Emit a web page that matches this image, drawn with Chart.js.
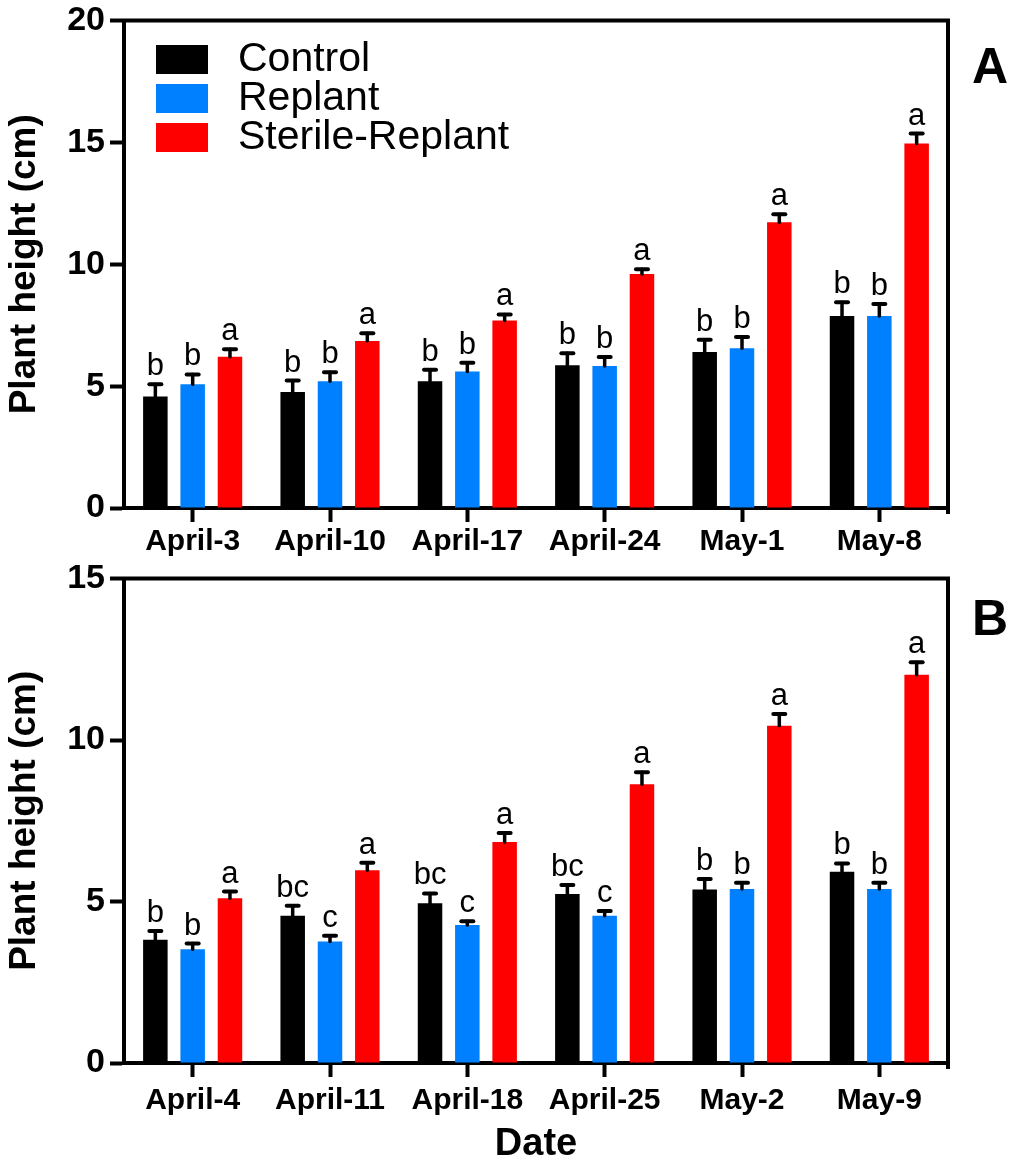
<!DOCTYPE html>
<html>
<head>
<meta charset="utf-8">
<script src="https://cdn.jsdelivr.net/npm/chart.js@4.4.0/dist/chart.umd.min.js"></script>
<style>
  html, body { margin: 0; padding: 0; background: #fff; }
  canvas { display: block; }
</style>
</head>
<body>
<canvas id="chartA" width="1013" height="560"></canvas>
<canvas id="chartB" width="1013" height="604"></canvas>
<script>
// ===================== DATOS PANEL A =====================
const datesA = ["April-3", "April-10", "April-17", "April-24", "May-1", "May-8"];
const controlA = [4.57, 4.76, 5.2, 5.86, 6.4, 7.88];
const controlErrA = [0.51, 0.47, 0.47, 0.49, 0.5, 0.56];
const replantA = [5.08, 5.2, 5.6, 5.83, 6.55, 7.88];
const replantErrA = [0.4, 0.37, 0.36, 0.36, 0.47, 0.49];
const sterileA = [6.21, 6.85, 7.69, 9.6, 11.72, 14.95];
const sterileErrA = [0.3, 0.32, 0.25, 0.19, 0.33, 0.41];
const lettersControlA = ["b", "b", "b", "b", "b", "b"];
const lettersReplantA = ["b", "b", "b", "b", "b", "b"];
const lettersSterileA = ["a", "a", "a", "a", "a", "a"];
const ticksA = [0, 5, 10, 15, 20];

// ===================== DATOS PANEL B =====================
const datesB = ["April-4", "April-11", "April-18", "April-25", "May-2", "May-9"];
const controlB = [3.82, 4.56, 4.95, 5.23, 5.37, 5.92];
const controlErrB = [0.27, 0.31, 0.3, 0.28, 0.33, 0.26];
const replantB = [3.52, 3.76, 4.27, 4.56, 5.39, 5.39];
const replantErrB = [0.18, 0.18, 0.12, 0.15, 0.19, 0.19];
const sterileB = [5.1, 5.97, 6.84, 8.63, 10.44, 12.02];
const sterileErrB = [0.21, 0.23, 0.28, 0.37, 0.37, 0.39];
const lettersControlB = ["b", "bc", "bc", "bc", "b", "b"];
const lettersReplantB = ["b", "c", "c", "c", "b", "b"];
const lettersSterileB = ["a", "a", "a", "a", "a", "a"];
const ticksB = [0, 5, 10, 15];

const seriesNames = ["Control", "Replant", "Sterile-Replant"];
const seriesColors = ["#000000", "#0080FF", "#FF0000"];

const FONT = '"Liberation Sans", Arial, Helvetica, sans-serif';

// ===================== PLUGIN: barras de error, letras, marco =====================
const extrasPlugin = {
  id: "extras",
  afterDatasetsDraw(chart, args, opts) {
    const ctx = chart.ctx;
    const yScale = chart.scales.y;
    ctx.save();
    chart.data.datasets.forEach((ds, i) => {
      const meta = chart.getDatasetMeta(i);
      meta.data.forEach((bar, j) => {
        const capY = yScale.getPixelForValue(ds.data[j] + opts.errors[i][j]);
        ctx.strokeStyle = "#000";
        ctx.lineCap = "round";
        ctx.lineWidth = 3.5;
        ctx.beginPath();
        ctx.moveTo(bar.x, bar.y);
        ctx.lineTo(bar.x, capY);
        ctx.stroke();
        ctx.lineWidth = 4;
        ctx.beginPath();
        ctx.moveTo(bar.x - 6, capY);
        ctx.lineTo(bar.x + 6, capY);
        ctx.stroke();

        ctx.fillStyle = "#000";
        ctx.font = "31px " + FONT;
        ctx.textAlign = "center";
        ctx.textBaseline = "alphabetic";
        ctx.fillText(opts.letters[i][j], bar.x, capY - 9);
      });
    });

    // marco superior y derecho
    const a = chart.chartArea;
    ctx.strokeStyle = "#000";
    ctx.lineWidth = 4;
    ctx.lineCap = "square";
    ctx.beginPath();
    ctx.moveTo(a.left, a.top);
    ctx.lineTo(a.right, a.top);
    ctx.lineTo(a.right, a.bottom + 4);
    ctx.stroke();

    // leyenda
    if (opts.showLegend) {
      chart.data.datasets.forEach((ds, i) => {
        const top = 45 + i * 39;
        ctx.fillStyle = ds.backgroundColor;
        ctx.fillRect(156, top, 52, 29);
        ctx.fillStyle = "#000";
        ctx.font = "41px " + FONT;
        ctx.textAlign = "left";
        ctx.textBaseline = "middle";
        ctx.fillText(ds.label, 238, top + 15);
      });
    }

    // letra del panel
    ctx.fillStyle = "#000";
    ctx.font = "bold 50px " + FONT;
    ctx.textAlign = "center";
    ctx.textBaseline = "alphabetic";
    ctx.fillText(opts.panel, 990, opts.panelY);
    ctx.restore();
  },
};

// ===================== CREAR PANEL =====================
function crearPanel(id, labels, values, errors, letters, ticks, cfg) {
  const ctx = document.getElementById(id).getContext("2d");
  return new Chart(ctx, {
    type: "bar",
    data: {
      labels,
      datasets: values.map((vals, i) => ({
        label: seriesNames[i],
        data: vals,
        backgroundColor: seriesColors[i],
        borderWidth: 0,
        categoryPercentage: 0.815,
        barPercentage: 0.657,
      })),
    },
    options: {
      responsive: false,
      animation: false,
      layout: { padding: { top: cfg.top, right: 65, bottom: 0, left: 0 } },
      plugins: {
        legend: { display: false },
        tooltip: { enabled: false },
        extras: {
          errors,
          letters,
          showLegend: cfg.showLegend,
          panel: cfg.panel,
          panelY: cfg.panelY,
        },
      },
      scales: {
        x: {
          z: 1,
          offset: true,
          grid: {
            offset: false,
            drawOnChartArea: false,
            drawTicks: true,
            tickLength: 14,
            tickWidth: 4,
            tickColor: "#000",
          },
          border: { display: true, width: 4, color: "#000" },
          ticks: {
            color: "#000",
            padding: cfg.xPad,
            maxRotation: 0,
            autoSkip: false,
            font: { family: FONT, size: 30, weight: "bold", lineHeight: 1.2 },
          },
          title: {
            display: !!cfg.xTitle,
            text: cfg.xTitle || "",
            color: "#000",
            font: { family: FONT, size: 38, weight: "bold", lineHeight: 1 },
            padding: { top: 0, bottom: 0 },
          },
          afterFit(s) {
            s.height = cfg.xHeight;
          },
        },
        y: {
          z: 1,
          min: ticks[0],
          max: ticks[ticks.length - 1],
          afterBuildTicks(s) {
            s.ticks = ticks.map((v) => ({ value: v }));
          },
          grid: {
            drawOnChartArea: false,
            drawTicks: true,
            tickLength: 14,
            tickWidth: 4,
            tickColor: "#000",
          },
          border: { display: true, width: 4, color: "#000" },
          ticks: {
            color: "#000",
            padding: 5,
            font: { family: FONT, size: 34, weight: "bold", lineHeight: 0.8 },
          },
          title: {
            display: true,
            text: "Plant height (cm)",
            color: "#000",
            font: { family: FONT, size: 37, weight: "bold", lineHeight: 1 },
            padding: { top: 6, bottom: 0 },
          },
          afterFit(s) {
            s.width = 124;
          },
        },
      },
    },
    plugins: [extrasPlugin],
  });
}

// ===================== INICIALIZAR =====================
crearPanel(
  "chartA",
  datesA,
  [controlA, replantA, sterileA],
  [controlErrA, replantErrA, sterileErrA],
  [lettersControlA, lettersReplantA, lettersSterileA],
  ticksA,
  { top: 20.5, xHeight: 52, xPad: 2, showLegend: true, panel: "A", panelY: 83 }
);

crearPanel(
  "chartB",
  datesB,
  [controlB, replantB, sterileB],
  [controlErrB, replantErrB, sterileErrB],
  [lettersControlB, lettersReplantB, lettersSterileB],
  ticksB,
  { top: 17, xHeight: 101, xPad: 6, xTitle: "Date", showLegend: false, panel: "B", panelY: 75 }
);
</script>
</body>
</html>
